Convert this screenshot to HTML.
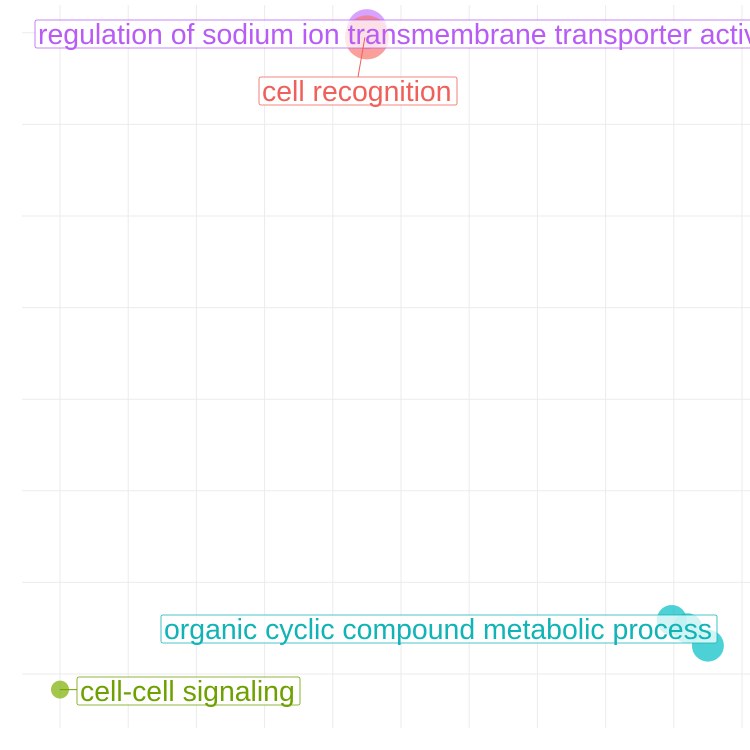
<!DOCTYPE html>
<html><head><meta charset="utf-8"><style>
html,body{margin:0;padding:0;background:#fff}
svg{display:block}
text{font-family:"Liberation Sans",sans-serif;font-size:29px}
</style></head><body>
<svg id="chart" width="750" height="750">
<g id="grid"></g>
<g id="marks"></g>
<g id="labels"></g>
</svg>
<script>
const xTicks=[0,1,2,3,4,5,6,7,8,9,10];
const yTicks=[0,1,2,3,4,5,6,7];
const terms=["regulation of sodium ion transmembrane transporter activity","cell recognition","organic cyclic compound metabolic process","organic cyclic compound metabolic process","organic cyclic compound metabolic process","cell-cell signaling"];
const xVals=[4.50,4.50,8.97,9.20,9.50,0.0];
const yVals=[7.04,6.95,0.59,0.50,0.31,-0.17];
const sizes=[20,22,15,15,16,9];
const colors=["#c77cff","#f8766d","#00bfc4","#00bfc4","#00bfc4","#7cae00"];
const labelTexts=["regulation of sodium ion transmembrane transporter activity","cell recognition","organic cyclic compound metabolic process","cell-cell signaling"];
const labelX=[38,262,164,80];
const labelY=[34,91,629,691];
const labelColors=["#b85cf5","#f0605a","#10b3b6","#6ea000"];
const labelPoint=[0,1,2,5];
const labelW=[720,198,556,223];

const sx=v=>60+v*68.2;
const sy=v=>674-v*91.6;
const NS="http://www.w3.org/2000/svg";
function mk(t,a,p){const e=document.createElementNS(NS,t);for(const k in a)e.setAttribute(k,a[k]);p.appendChild(e);return e;}
const grid=document.getElementById('grid'),marks=document.getElementById('marks'),labels=document.getElementById('labels');
xTicks.forEach(t=>{const l=mk('line',{x1:sx(t),x2:sx(t),y1:5,y2:728,stroke:'#ebebeb','stroke-width':1},grid);

});
yTicks.forEach(t=>{const l=mk('line',{x1:22,x2:750,y1:sy(t),y2:sy(t),stroke:'#ebebeb','stroke-width':1},grid);

});
xVals.forEach((x,i)=>{const c=mk('circle',{cx:sx(x),cy:sy(yVals[i]),r:sizes[i],fill:colors[i],'fill-opacity':0.7},marks);

});
let scale=null;
labelTexts.forEach((s,i)=>{
 const g=mk('g',{},labels);
 
 
 const p=labelPoint[i];const px=sx(xVals[p]),py=sy(yVals[p]);
 if(i===1) mk('line',{x1:px-2,y1:py,x2:358,y2:labelY[i]-14,stroke:labelColors[i]},g);
 if(i===3) mk('line',{x1:px,y1:py,x2:labelX[i]-3,y2:py,stroke:labelColors[i]},g);
 mk('rect',{x:labelX[i]-3,y:labelY[i]-14,width:labelW[i],height:28,rx:2,fill:'#fff','fill-opacity':0.75,stroke:labelColors[i],'stroke-width':0.8},g);
 const t=mk('text',{x:labelX[i],y:labelY[i]+10,fill:labelColors[i]},g);t.textContent=s;
 g._t=t;
});
const tl=labels.querySelectorAll('text');
scale=548/tl[2].getComputedTextLength();
tl.forEach(t=>{t.setAttribute('textLength',t.getComputedTextLength()*scale);t.setAttribute('lengthAdjust','spacingAndGlyphs');});
</script>
</body></html>
